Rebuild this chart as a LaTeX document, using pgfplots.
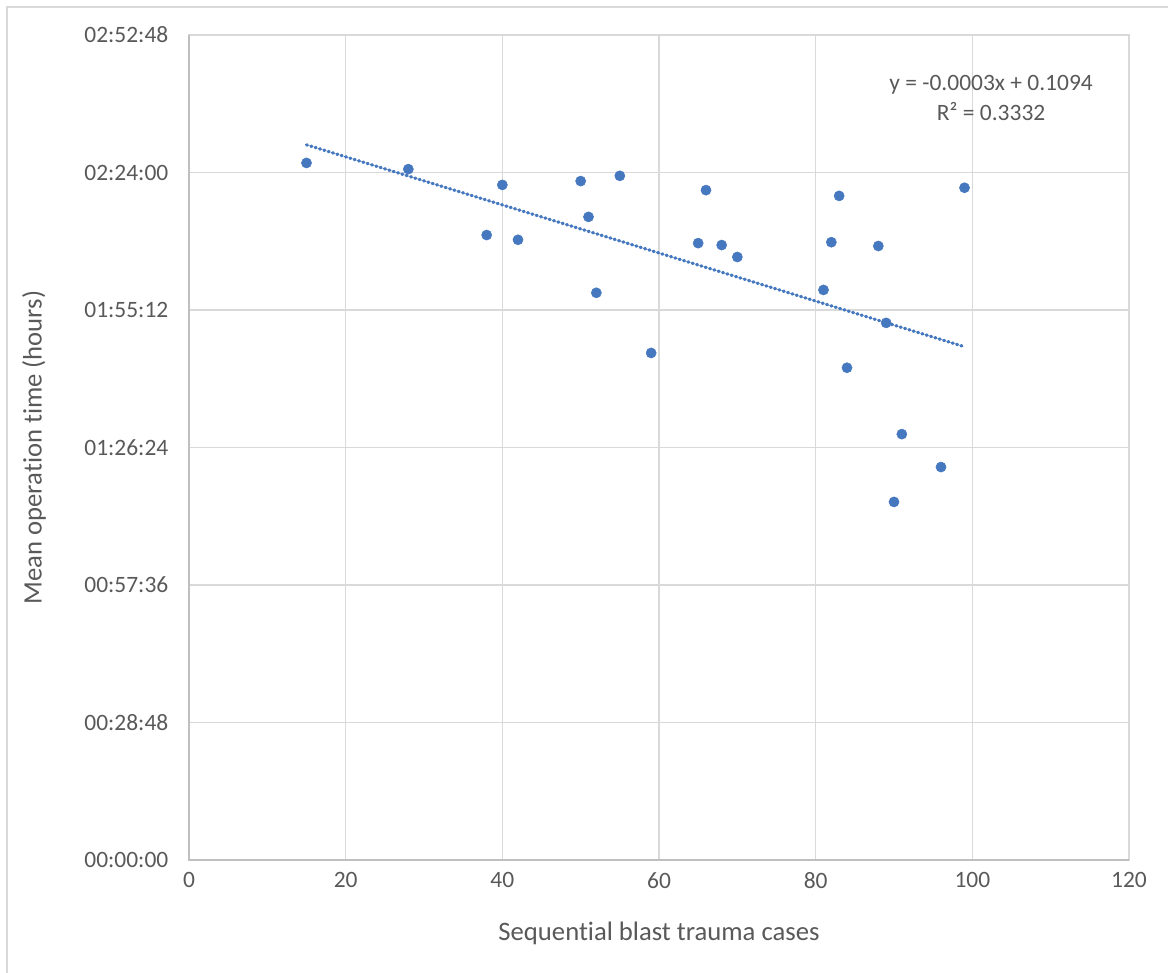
\documentclass[border=0pt]{standalone}
\usepackage{pgfplots}
\pgfplotsset{compat=1.18}
\usepackage{fontspec}
\setmainfont{Carlito}[Ligatures=NoCommon]
\definecolor{txt}{HTML}{595959}
\definecolor{grd}{HTML}{D9D9D9}
\definecolor{axl}{HTML}{BFBFBF}
\definecolor{pts}{RGB}{70,120,192}
\begin{document}
\begin{tikzpicture}
\useasboundingbox (0pt,0pt) rectangle (876pt,729.75pt);
\draw[grd, line width=1.1pt] (5.25pt,0pt) -- (5.25pt,724.5pt) -- (876pt,724.5pt);
\begin{axis}[
  at={(141.75pt,84.75pt)}, anchor=south west,
  scale only axis, width=705pt, height=618.75pt,
  xmin=0, xmax=120, ymin=0, ymax=172.8,
  xtick={0,20,...,120},
  ytick={0,28.8,57.6,86.4,115.2,144,172.8},
  yticklabels={00:00:00,00:28:48,00:57:36,01:26:24,01:55:12,02:24:00,02:52:48},
  grid=major,
  major grid style={grd, line width=1.2pt},
  axis line style={grd, line width=1.2pt},
  tick style={draw=none},
  /pgf/number format/assume math mode=true,
  ticklabel style={font=\fontsize{17.6}{20}\selectfont, text=txt},
  yticklabel style={xshift=-12pt},
  xticklabel style={yshift=-6pt},
  xlabel={Sequential blast trauma cases},
  ylabel={Mean operation time (hours)},
  label style={font=\fontsize{20}{24}\selectfont, text=txt},
  xlabel style={yshift=-18pt},
  ylabel style={yshift=22pt},
  clip=false,
]
\addplot[only marks, mark=*, mark size=3.8pt, mark options={fill=pts, draw=pts}] coordinates {
(15,146.0) (28,144.7) (40,141.4) (38,130.9) (42,129.9) (50,142.2) (51,134.7) (52,118.8)
(55,143.3) (59,106.2) (65,129.2) (66,140.3) (68,128.8) (70,126.3) (81,119.4) (82,129.4)
(83,139.1) (84,103.1) (88,128.6) (89,112.5) (91,89.2) (90,75.0) (96,82.3) (99,140.8)
};
\addplot[pts, line width=2.4pt, line cap=round, dash pattern=on 0.8pt off 2.6pt] coordinates {(15,149.8) (99,107.5)};
\node[align=center, text=txt, font=\fontsize{17.6}{22.5}\selectfont] at (axis cs:102.4,159.6) {y = -0.0003x + 0.1094\\R² = 0.3332};
\end{axis}
\draw[axl, line width=1.2pt] (141.75pt,703.5pt) -- (141.75pt,84.75pt) -- (846.75pt,84.75pt);
\end{tikzpicture}
\end{document}
